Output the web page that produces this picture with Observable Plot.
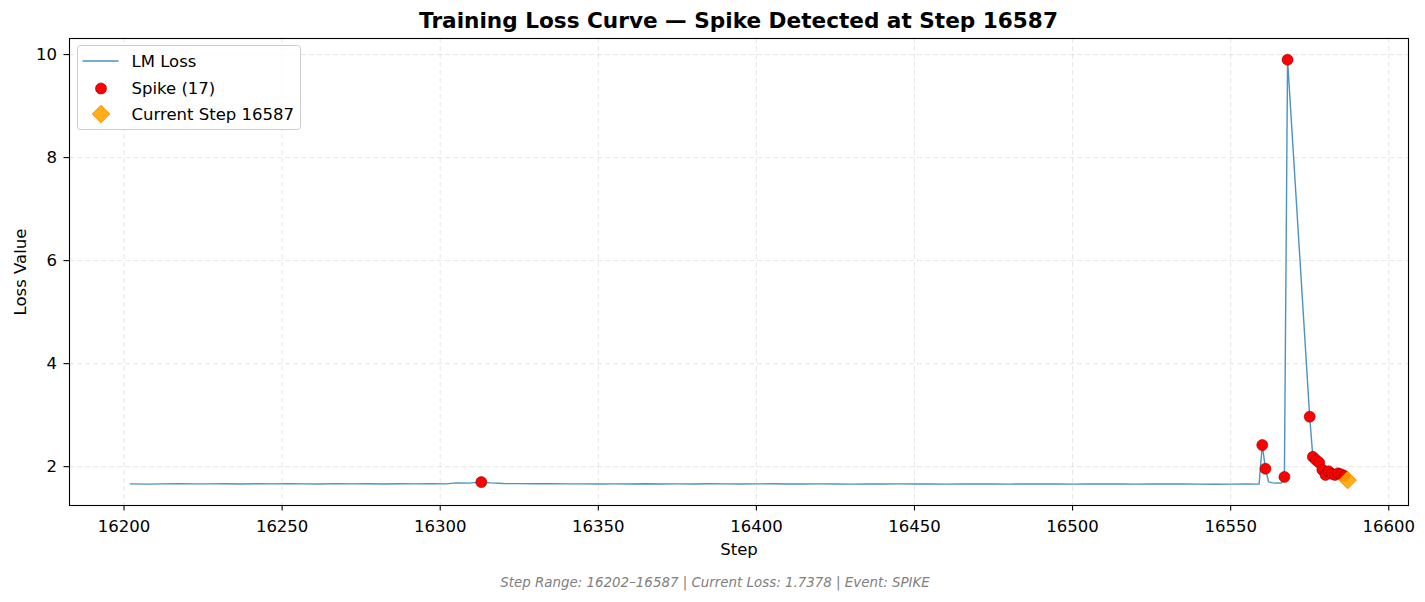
<!DOCTYPE html>
<html>
<head>
<meta charset="utf-8">
<script src="https://cdn.jsdelivr.net/npm/d3@7"></script>
<script src="https://cdn.jsdelivr.net/npm/@observablehq/plot@0.6"></script>
<style>
  body { margin: 0; background: #fff; font-family: "DejaVu Sans", sans-serif; }
  #wrap { position: relative; width: 1425px; height: 602px; overflow: hidden; background: #fff; }
  #title { position: absolute; left: 0; top: 9px; width: 1477px; text-align: center; font-weight: bold; font-size: 21.6px; line-height: 24px; color: #000; }
  #caption { position: absolute; left: 0; top: 575px; width: 1430px; text-align: center; font-style: italic; font-size: 13.4px; line-height: 16px; color: #808080; }
  #chart { position: absolute; left: 0; top: 0; }
  #legend { position: absolute; left: 77px; top: 45px; }
</style>
</head>
<body>
<div id="wrap">
  <div id="chart"></div>
  <div id="title"></div>
  <svg id="legend" width="226" height="86"></svg>
  <div id="caption"></div>
</div>
<script>
// ---- data ----
const steps = [
  16202,16207,16212,16217,16222,16227,16232,16237,16242,16247,
  16252,16257,16262,16267,16272,16277,16282,16287,16292,16297,
  16302,16305,16309,16313,16316,16320,16325,16330,16335,16340,
  16345,16350,16355,16360,16365,16370,16375,16380,16385,16390,
  16395,16400,16405,16410,16415,16420,16425,16430,16435,16440,
  16445,16450,16455,16460,16465,16470,16475,16480,16485,16490,
  16495,16500,16505,16510,16515,16520,16525,16530,16535,16540,
  16545,16550,16555,16559,16560,16561,16562,16563,16564,16565,
  16566,16567,16568,16575,16576,16577,16578,16579,16580,16581,
  16582,16583,16584,16585,16586,16587
];
const losses = [
  1.665,1.660,1.665,1.668,1.665,1.666,1.668,1.664,1.667,1.666,
  1.667,1.666,1.664,1.670,1.666,1.668,1.664,1.667,1.666,1.668,
  1.665,1.685,1.680,1.700,1.685,1.672,1.670,1.668,1.667,1.665,
  1.666,1.663,1.666,1.664,1.667,1.663,1.666,1.664,1.667,1.665,
  1.662,1.665,1.667,1.664,1.662,1.665,1.663,1.660,1.664,1.662,
  1.665,1.663,1.664,1.661,1.664,1.662,1.665,1.661,1.663,1.662,
  1.664,1.660,1.663,1.666,1.662,1.660,1.664,1.662,1.664,1.660,
  1.658,1.660,1.662,1.660,2.420,1.960,1.705,1.690,1.680,1.685,
  1.680,1.800,9.900,2.970,2.190,2.130,2.080,1.940,1.840,1.910,
  1.860,1.840,1.870,1.850,1.820,1.7378
];
const spikeSteps = [16313,16560,16561,16567,16568,16575,16576,16577,16578,16579,16580,16581,16582,16583,16584,16585,16586];
const spikeLosses = [1.700,2.420,1.960,1.800,9.900,2.970,2.190,2.130,2.080,1.940,1.840,1.910,1.860,1.840,1.870,1.850,1.820];
const currentStep = 16587;
const currentLoss = 1.7378;
const xTicks = [16200,16250,16300,16350,16400,16450,16500,16550,16600];
const yTicks = [2,4,6,8,10];
const titleText = "Training Loss Curve — Spike Detected at Step 16587";
const captionText = "Step Range: 16202–16587 | Current Loss: 1.7378 | Event: SPIKE";
const xLabel = "Step";
const yLabel = "Loss Value";
const legendLabels = ["LM Loss", `Spike (${spikeSteps.length})`, `Current Step ${currentStep}`];

// ---- build tables ----
const lineData = steps.map((s, i) => ({step: s, loss: losses[i]}));
const spikeData = spikeSteps.map((s, i) => ({step: s, loss: spikeLosses[i]}));
const currentData = [{step: currentStep, loss: currentLoss}];

const [x0, x1] = d3.extent(steps);
const [y0, y1] = d3.extent(losses.concat(spikeLosses, [currentLoss]));
const xPad = (x1 - x0) * 0.05, yPad = (y1 - y0) * 0.05;

const lineColor = "#1f77b4";
const fs = 16.5;

const chart = Plot.plot({
  width: 1425,
  height: 602,
  marginLeft: 69,
  marginRight: 17,
  marginTop: 38,
  marginBottom: 97,
  style: {fontFamily: "DejaVu Sans, sans-serif", fontSize: fs + "px", background: "transparent", color: "#000"},
  x: {domain: [x0 - xPad, x1 + xPad]},
  y: {domain: [y0 - yPad, y1 + yPad]},
  marks: [
    Plot.gridX(xTicks, {stroke: "#b0b0b0", strokeOpacity: 0.3, strokeWidth: 1, strokeDasharray: "5,3"}),
    Plot.gridY(yTicks, {stroke: "#b0b0b0", strokeOpacity: 0.3, strokeWidth: 1, strokeDasharray: "5,3"}),
    Plot.line(lineData, {x: "step", y: "loss", stroke: lineColor, strokeOpacity: 0.8, strokeWidth: 1.4}),
    Plot.dot(spikeData, {x: "step", y: "loss", r: 5.5, fill: "red", stroke: "darkred", strokeWidth: 0.6}),
    Plot.dot(currentData, {x: "step", y: "loss", symbol: "diamond2", r: 7.8, fill: "orange", fillOpacity: 0.9, stroke: "darkorange", strokeWidth: 1}),
    Plot.frame({stroke: "#000", strokeWidth: 1.1}),
    Plot.axisX({ticks: xTicks, tickFormat: d3.format("d"), tickSize: 5.5, tickPadding: 9, fontSize: fs, label: null, stroke: "#000", strokeWidth: 1.1}),
    Plot.axisY({ticks: yTicks, tickFormat: d3.format("d"), tickSize: 5.5, tickPadding: 7, fontSize: fs, label: null, stroke: "#000", strokeWidth: 1.1}),
    Plot.text([xLabel], {text: d => d, frameAnchor: "bottom", lineAnchor: "middle", textAnchor: "middle", dy: 44, fontSize: fs, fill: "#000"}),
    Plot.text([yLabel], {text: d => d, frameAnchor: "left", lineAnchor: "middle", textAnchor: "middle", dx: -48.5, rotate: -90, fontSize: fs, fill: "#000"})
  ]
});
document.getElementById("chart").appendChild(chart);
document.getElementById("title").textContent = titleText;
document.getElementById("caption").textContent = captionText;

// ---- legend ----
const lg = d3.select("#legend");
lg.append("rect").attr("x", 0.5).attr("y", 0.5).attr("width", 223).attr("height", 84).attr("rx", 3)
  .attr("fill", "#fff").attr("fill-opacity", 0.8).attr("stroke", "#cccccc").attr("stroke-width", 1);
const rowsY = [16, 43.5, 69];
lg.append("line").attr("x1", 5.5).attr("x2", 41.5).attr("y1", rowsY[0]).attr("y2", rowsY[0])
  .attr("stroke", lineColor).attr("stroke-opacity", 0.8).attr("stroke-width", 1.4);
lg.append("circle").attr("cx", 24).attr("cy", rowsY[1]).attr("r", 5.5)
  .attr("fill", "red").attr("stroke", "darkred").attr("stroke-width", 0.6);
lg.append("path").attr("transform", `translate(24,${rowsY[2]})`).attr("d", d3.symbol(d3.symbolDiamond2, Math.PI * 7.8 * 7.8)())
  .attr("fill", "orange").attr("fill-opacity", 0.9).attr("stroke", "darkorange").attr("stroke-width", 1);
lg.selectAll("text.l").data(legendLabels).join("text").attr("class", "l")
  .attr("x", 54.5).attr("y", (d, i) => rowsY[i]).attr("dy", "0.36em")
  .attr("font-family", "DejaVu Sans, sans-serif").attr("font-size", fs).attr("fill", "#000").text(d => d);
</script>
</body>
</html>
